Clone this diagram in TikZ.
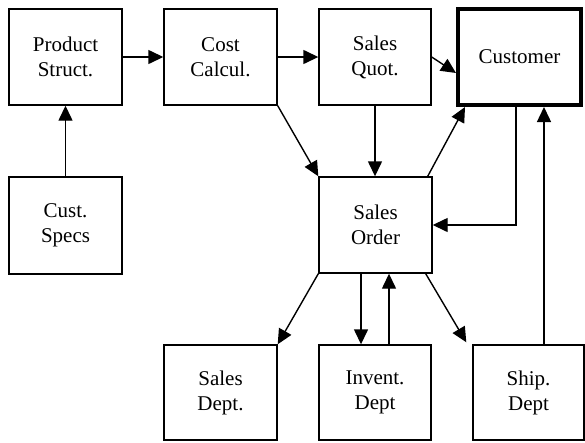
\documentclass[tikz,border=0pt]{standalone}
\usepackage{fontspec}
\setmainfont{Liberation Serif}[Scale=1.0]
\usetikzlibrary{arrows.meta,calc}
\begin{document}
\begin{tikzpicture}[x=1pt,y=-1pt,
  box/.style={draw,line width=1.4pt,minimum width=113pt,minimum height=96pt,
    inner sep=0pt,align=center,font=\rmfamily\fontsize{21}{25}\selectfont},
  conn/.style={line width=1.4pt,-{Triangle[length=15pt,width=14pt]}}]
\useasboundingbox (0,0) rectangle (585,442);

% boxes
\node[box] (pr) at (65.5,57) {Product\\Struct.};
\node[box] (co) at (220.5,57) {Cost\\Calcul.};
\node[box,minimum width=112pt] (qu) at (375,57) {Sales\\Quot.};
\node[box,line width=4pt,minimum width=123pt] (cu) at (519.5,57) {Customer};
\node[box,minimum height=97pt] (sp) at (65.5,225.5) {Cust.\\Specs};
\node[box] (so) at (375.5,225) {Sales\\Order};
\node[box,minimum height=95pt] (sd) at (220.5,392.5) {Sales\\Dept.};
\node[box,minimum width=112pt,minimum height=95pt] (in) at (375,392.5) {Invent.\\Dept};
\node[box,minimum width=111pt,minimum height=95pt] (sh) at (528.5,392.5) {Ship.\\Dept};

% connectors
\draw[conn] (sp.north) -- (pr.south);
\draw[conn] (pr.east) -- (co.west);
\draw[conn] (co.east) -- (qu.west);
\draw[conn] (qu.east) -- ($(cu.west)+(0,16)$);
\draw[conn] (co.south east) -- (so.north west);
\draw[conn] (qu.south) -- (qu.south |- so.north);
\draw[conn] ($(so.north east)+(-5,0)$) -- ($(cu.south west)+(9,0)$);
\draw[conn] ($(cu.south)+(-3.5,0)$) |- (so.east);
\draw[conn] ($(sh.north)+(15.5,0)$) -- ($(cu.south)+(24.5,0)$);
\draw[conn] (so.south west) -- (sd.north east);
\draw[conn] ($(so.south)+(-14.5,0)$) -- ($(in.north)+(-14,0)$);
\draw[conn] ($(in.north)+(14,0)$) -- ($(so.south)+(13.5,0)$);
\draw[conn] ($(so.south east)+(-7,0)$) -- ($(sh.north west)+(-6,-2)$);
\end{tikzpicture}
\end{document}
